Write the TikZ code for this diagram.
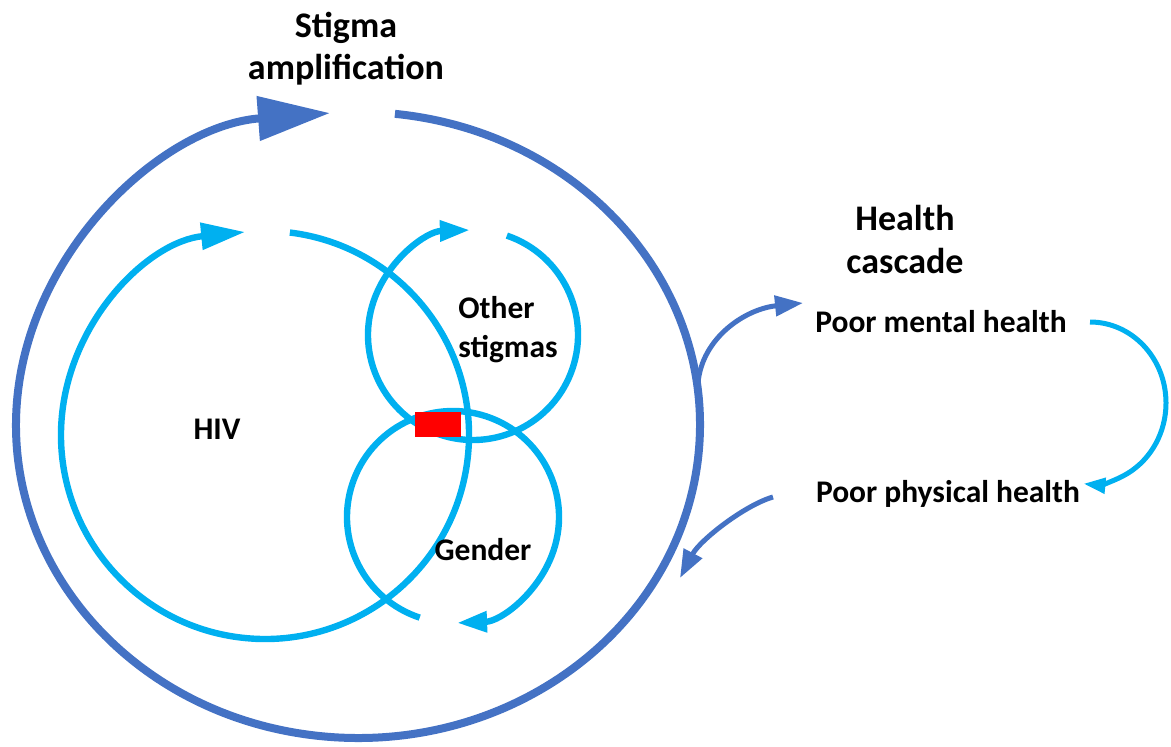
\documentclass[tikz,border=0pt]{standalone}
\usepackage{fontspec}
\setmainfont{Carlito}
\usetikzlibrary{arrows.meta}
\definecolor{ampblue}{HTML}{4472C4}
\definecolor{loopblue}{HTML}{00B0F0}

\begin{document}
\begin{tikzpicture}[
    x=0.5pt, y=0.5pt,
    % Define styles
    amploop/.style={
        draw=ampblue,
        line width=4pt,
        -{Triangle[length=36pt, width=21.5pt]}
    },
    stigloop/.style={
        draw=loopblue,
        line width=3.2pt,
        -{Triangle[length=15pt, width=10pt]}
    },
    link/.style={
        draw=ampblue,
        line width=2.5pt,
        -{Triangle[length=14pt, width=10pt]}
    },
    cascade/.style={
        draw=loopblue,
        line width=2.5pt,
        -{Triangle[length=11pt, width=7.5pt]}
    },
    label/.style={
        inner sep=0pt,
        align=center,
        font=\bfseries\fontsize{15.75}{19.5}\selectfont
    },
    heading/.style={
        inner sep=0pt,
        align=center,
        font=\bfseries\fontsize{18}{21.5}\selectfont
    }
]
\useasboundingbox (0,0) rectangle (1171,746);

% Loop centres
\coordinate (ampC) at (358,321);
\coordinate (hivC) at (265,311);
\coordinate (otherC) at (473,411);
\coordinate (genderC) at (453,229);

% Outer loop: stigma amplification
\draw[amploop] ([shift={(83.8:342 and 313)}]ampC)
    arc[start angle=83.8, end angle=-265.3, x radius=342, y radius=313];

% Inner loops
\draw[stigloop, -{Triangle[length=22pt, width=13pt]}] ([shift={(83:204)}]hivC)
    arc[start angle=83, end angle=-264.4, radius=204];
\draw[stigloop] ([shift={(71.2:105)}]otherC)
    arc[start angle=71.2, end angle=-268.3, radius=105];
\draw[stigloop] ([shift={(-108.3:106)}]genderC)
    arc[start angle=-108.3, end angle=-447.8, radius=106];

% Intersection
\node[fill=red, inner sep=0pt, minimum width=23pt, minimum height=12.5pt] (core) at (438,321.5) {};

% Labels (base = last line)
\node[heading, anchor=base] (amp) at (346,666) {Stigma\\amplification};
\node[label, anchor=base] (hiv) at (217,307) {HIV};
\node[label, anchor=base west, align=left] (other) at (458,389) {Other\\stigmas};
\node[label, anchor=base] (gender) at (483,186) {Gender};

% Health cascade
\node[heading, anchor=base] (health) at (905,473) {Health\\cascade};
\node[label, anchor=base] (mental) at (941,414) {Poor mental health};
\node[label, anchor=base] (physical) at (948,244) {Poor physical health};

\coordinate (ampOut) at (698,363);
\coordinate (mentalIn) at (803,443);
\coordinate (cascStart) at (1090,424);
\coordinate (physOut) at (773,249);
\coordinate (ampIn) at (680,168);

% Links
\draw[link] (ampOut) .. controls (702,408) and (745,437) .. (mentalIn);
\draw[cascade] (cascStart) arc[start angle=90, end angle=-95, x radius=76, y radius=81];
\draw[link] (physOut) .. controls (745,241) and (700,206) .. (ampIn);

\end{tikzpicture}
\end{document}
